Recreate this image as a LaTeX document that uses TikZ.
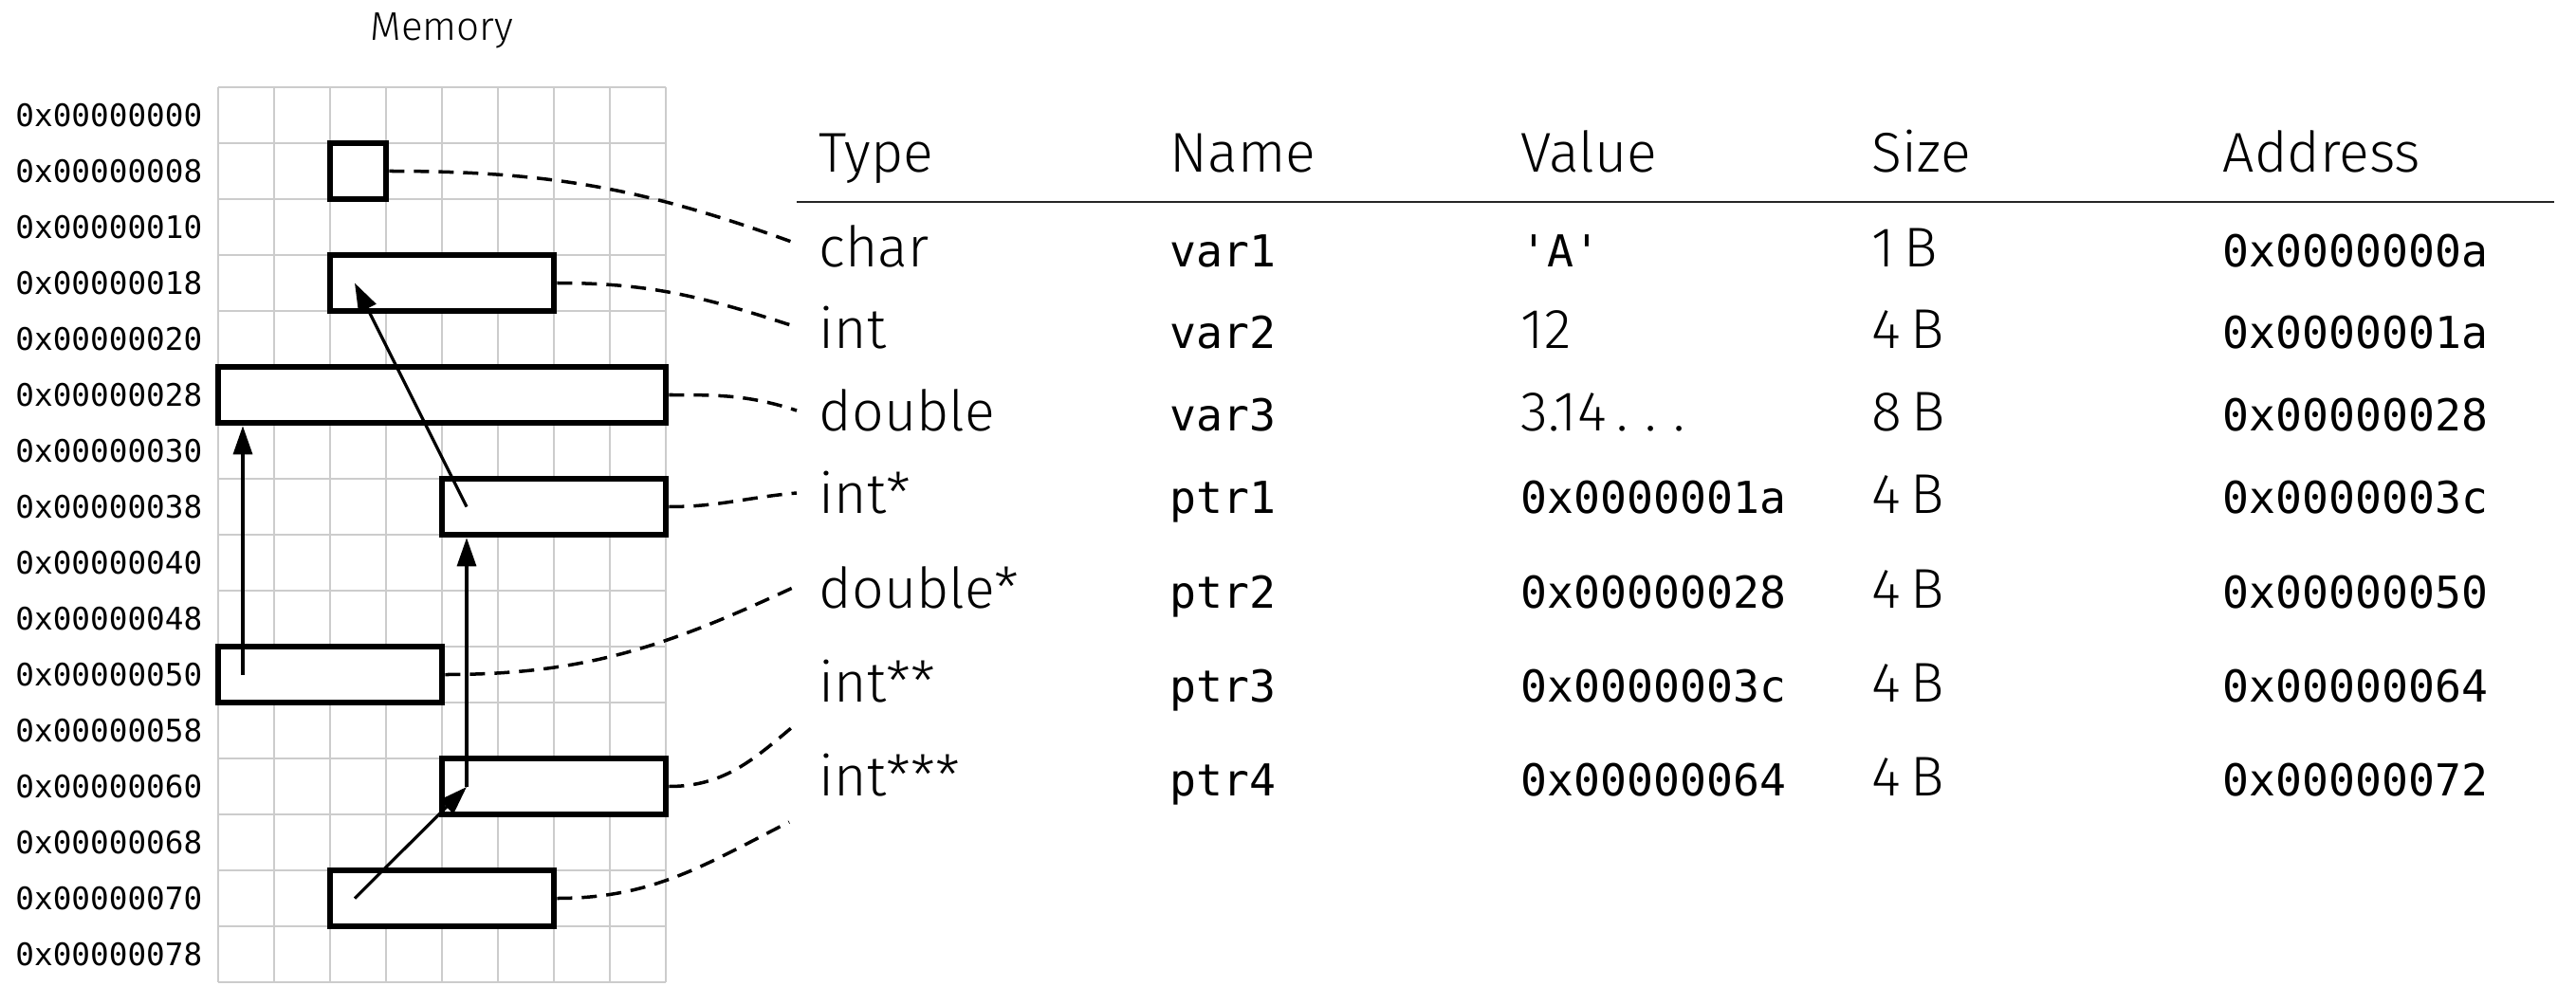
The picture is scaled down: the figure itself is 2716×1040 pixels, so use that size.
\documentclass[tikz,border=0pt]{standalone}
\usepackage{fontspec}
\setmainfont{Fira Sans Light}
\setmonofont{DejaVu Sans Mono}
\usetikzlibrary{arrows.meta,calc}

\begin{document}
\begin{tikzpicture}[x=0.01cm,y=-0.01cm,
  gridline/.style={draw=black!20, line width=0.017cm},
  membox/.style={draw=black, fill=white, line width=0.065cm, inner sep=0pt, minimum height=0.59cm},
  ptrarrow/.style={line width=0.032cm, -{Triangle[length=0.3cm,width=0.2cm]}},
  link/.style={line width=0.035cm, dash pattern=on 0.16cm off 0.1cm},
  addr/.style={font=\ttfamily\fontsize{9.3}{11}\selectfont, inner sep=0pt, anchor=east},
  title/.style={font=\fontsize{12}{14}\selectfont, inner sep=0pt, anchor=base},
  txt/.style={font=\fontsize{16.8}{20}\selectfont, inner sep=0pt, anchor=base west},
  code/.style={font=\ttfamily\fontsize{13.2}{16}\selectfont, inner sep=0pt, anchor=base west},
]
\useasboundingbox (0,0) rectangle (2716,1040);

% memory grid: 8 bytes per row, 16 rows
\node[title] (mem) at (466,43) {Memory};
\foreach \i in {0,...,8}
  \draw[gridline] (230+59*\i,92) -- (230+59*\i,1036);
\foreach \j in {0,...,16}
  \draw[gridline] (230,92+59*\j) -- (702,92+59*\j);
\foreach \a [count=\j from 0] in {00,08,10,18,20,28,30,38,40,48,50,58,60,68,70,78}
  \node[addr] (a\j) at (214,121.5+59*\j) {0x000000\a};

% variables in memory
\node[membox, minimum width=0.59cm] (v1) at (377.5,180.5) {};
\node[membox, minimum width=2.36cm] (v2) at (466,298.5) {};
\node[membox, minimum width=4.72cm] (v3) at (466,416.5) {};
\node[membox, minimum width=2.36cm] (p1) at (584,534.5) {};
\node[membox, minimum width=2.36cm] (p2) at (348,711.5) {};
\node[membox, minimum width=2.36cm] (p3) at (584,829.5) {};
\node[membox, minimum width=2.36cm] (p4) at (466,947.5) {};

% pointer targets
\coordinate (v2in) at (374,298.5);
\coordinate (p1in) at (492,534.5);
\coordinate (p2in) at (256,711.5);
\coordinate (p3in) at (492,830);
\coordinate (p4in) at (374,947.5);

\draw[ptrarrow] (p1in) -- (v2in);
\draw[ptrarrow] (p2in) -- (p2in |- v3.south);
\draw[ptrarrow] (p3in) -- (p3in |- p1.south);
\draw[ptrarrow] (p4in) -- (p3in);

% table
\node[txt] (hType) at (863,182) {Type};
\node[txt] (hName) at (1233,182) {Name};
\node[txt] (hValue) at (1603,182) {Value};
\node[txt] (hSize) at (1973,182) {Size};
\node[txt] (hAddr) at (2343,182) {Address};
\draw[line width=0.025cm, black!85] (840,213) -- (2693,213);

\node[txt] (t1) at (863,282) {char};
\node[txt] (t2) at (863,368) {int};
\node[txt] (t3) at (863,454) {double};
\node[txt] (t4) at (863,541) {int*};
\node[txt] (t5) at (863,641) {double*};
\node[txt] (t6) at (863,740) {int**};
\node[txt] (t7) at (863,839) {int***};

\node[code] (n1) at (1233,282) {var1};
\node[code] (n2) at (1233,368) {var2};
\node[code] (n3) at (1233,454) {var3};
\node[code] (n4) at (1233,541) {ptr1};
\node[code] (n5) at (1233,641) {ptr2};
\node[code] (n6) at (1233,740) {ptr3};
\node[code] (n7) at (1233,839) {ptr4};

\node[code] (w1) at (1603,282) {'A'};
\node[txt] (w2) at (1603,368) {12};
\node[txt] (w3) at (1603,454) {3.14\kern0.18em.\kern0.3em.\kern0.3em.};
\node[code] (w4) at (1603,541) {0x0000001a};
\node[code] (w5) at (1603,641) {0x00000028};
\node[code] (w6) at (1603,740) {0x0000003c};
\node[code] (w7) at (1603,839) {0x00000064};

\node[txt] (s1) at (1973,282) {1\,B};
\node[txt] (s2) at (1973,368) {4\,B};
\node[txt] (s3) at (1973,454) {8\,B};
\node[txt] (s4) at (1973,541) {4\,B};
\node[txt] (s5) at (1973,641) {4\,B};
\node[txt] (s6) at (1973,740) {4\,B};
\node[txt] (s7) at (1973,839) {4\,B};

\node[code] (d1) at (2343,282) {0x0000000a};
\node[code] (d2) at (2343,368) {0x0000001a};
\node[code] (d3) at (2343,454) {0x00000028};
\node[code] (d4) at (2343,541) {0x0000003c};
\node[code] (d5) at (2343,641) {0x00000050};
\node[code] (d6) at (2343,740) {0x00000064};
\node[code] (d7) at (2343,839) {0x00000072};

% links from memory to table rows
\coordinate (c1) at ($(t1.base west)+(-23,-25)$);
\coordinate (c2) at ($(t2.base west)+(-23,-23)$);
\coordinate (c3) at ($(t3.base west)+(-23,-21)$);
\coordinate (c4) at ($(t4.base west)+(-23,-21)$);
\coordinate (c5) at ($(t5.base west)+(-23,-23)$);
\coordinate (c6) at ($(t6.base west)+(-23,23)$);
\coordinate (c7) at ($(t7.base west)+(-31,28)$);

\draw[link] (v1.east) to[out=0,in=160] (c1);
\draw[link] (v2.east) to[out=0,in=162] (c2);
\draw[link] (v3.east) to[out=0,in=162] (c3);
\draw[link] (p1.east) to[out=0,in=185] (c4);
\draw[link] (p2.east) to[out=0,in=205] (c5);
\draw[link] (p3.east) to[out=0,in=220] (c6);
\draw[link] (p4.east) to[out=0,in=207] (c7);
\end{tikzpicture}
\end{document}
